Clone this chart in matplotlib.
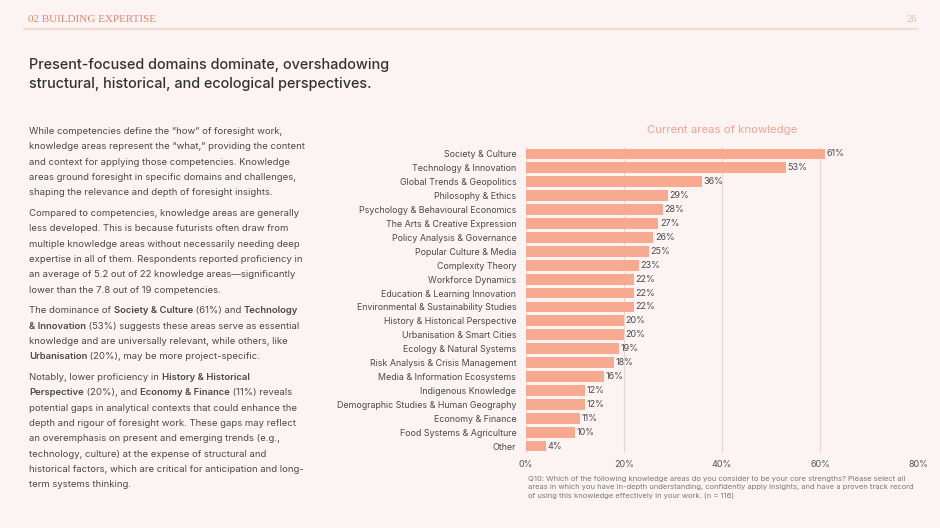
import matplotlib.pyplot as plt
import numpy as np

# knowledge areas and share of respondents (%)
areas = [
    "Society & Culture", "Technology & Innovation", "Global Trends & Geopolitics",
    "Philosophy & Ethics", "Psychology & Behavioural Economics",
    "The Arts & Creative Expression", "Policy Analysis & Governance",
    "Popular Culture & Media", "Complexity Theory", "Workforce Dynamics",
    "Education & Learning Innovation", "Environmental & Sustainability Studies",
    "History & Historical Perspective", "Urbanisation & Smart Cities",
    "Ecology & Natural Systems", "Risk Analysis & Crisis Management",
    "Media & Information Ecosystems", "Indigenous Knowledge",
    "Demographic Studies & Human Geography", "Economy & Finance",
    "Food Systems & Agriculture", "Other",
]
shares = [61, 53, 36, 29, 28, 27, 26, 25, 23, 22, 22, 22, 20, 20, 19, 18, 16, 12, 12, 11, 10, 4]
x_ticks = [0, 20, 40, 60, 80]

# body paragraphs: each line is a list of (text, bold)
paragraphs = [
    [[("While competencies define the \u201chow\u201d of foresight work,", False)],
     [("knowledge areas represent the \u201cwhat,\u201d providing the content", False)],
     [("and context for applying those competencies. Knowledge", False)],
     [("areas ground foresight in specific domains and challenges,", False)],
     [("shaping the relevance and depth of foresight insights.", False)]],
    [[("Compared to competencies, knowledge areas are generally", False)],
     [("less developed. This is because futurists often draw from", False)],
     [("multiple knowledge areas without necessarily needing deep", False)],
     [("expertise in all of them. Respondents reported proficiency in", False)],
     [("an average of 5.2 out of 22 knowledge areas\u2014significantly", False)],
     [("lower than the 7.8 out of 19 competencies.", False)]],
    [[("The dominance of ", False), ("Society & Culture", True), (" (61%) and ", False), ("Technology", True)],
     [("& Innovation", True), (" (53%) suggests these areas serve as essential", False)],
     [("knowledge and are universally relevant, while others, like", False)],
     [("Urbanisation", True), (" (20%), may be more project-specific.", False)]],
    [[("Notably, lower proficiency in ", False), ("History & Historical", True)],
     [("Perspective", True), (" (20%), and ", False), ("Economy & Finance", True), (" (11%) reveals", False)],
     [("potential gaps in analytical contexts that could enhance the", False)],
     [("depth and rigour of foresight work. These gaps may reflect", False)],
     [("an overemphasis on present and emerging trends (e.g.,", False)],
     [("technology, culture) at the expense of structural and", False)],
     [("historical factors, which are critical for anticipation and long-", False)],
     [("term systems thinking.", False)]],
]

W, H = 940, 528
bg = "#fcf4f2"
bar_color = "#f8aa90"
text_color = "#4a4a4a"
font = "Inter"

plt.rcParams['font.family'] = [font, 'DejaVu Sans']

fig = plt.figure(figsize=(W / 100, H / 100), dpi=100, facecolor=bg)


def fx(x):
    return x / W


def fy(y):
    return 1 - y / H


# header
fig.text(fx(28), fy(19), "02 BUILDING EXPERTISE", family="Liberation Serif",
         fontsize=8, color="#e3866c", va="center")
fig.text(fx(917), fy(19), "26", family="Liberation Serif", fontsize=7.5,
         color="#e8b7a8", va="center", ha="right")
fig.add_artist(plt.Line2D([fx(24), fx(917)], [fy(29), fy(29)], color="#f2dcd5", lw=1.5))

# title
fig.text(fx(29), fy(65), "Present-focused domains dominate, overshadowing",
         fontsize=10.4, color="#333333", weight="medium", va="center")
fig.text(fx(29), fy(84), "structural, historical, and ecological perspectives.",
         fontsize=10.4, color="#333333", weight="medium", va="center")

# body text with bold runs
renderer = fig.canvas.get_renderer()
y = 134
for para in paragraphs:
    for line in para:
        x = 29
        for seg, bold in line:
            t = fig.text(fx(x), fy(y), seg, fontsize=6.85, color=text_color,
                         weight="semibold" if bold else "normal", va="baseline")
            x += t.get_window_extent(renderer).width
        y += 15.3
    y += 5.5

# bar chart
ax = fig.add_axes([fx(526), fy(453), fx(918 - 526), (453 - 147) / H])
ax.set_facecolor(bg)
pos = np.arange(len(areas))
ax.barh(pos, shares, height=0.78, color=bar_color, zorder=2)
for p, v in zip(pos, shares):
    ax.text(v + 0.3, p, f"{v}%", va="center", ha="left", fontsize=6.5, color=text_color)
ax.set_yticks(pos)
ax.set_yticklabels(areas, fontsize=6.4, color=text_color)
ax.set_ylim(len(areas) - 0.5, -0.5)
ax.set_xlim(0, 80)
ax.set_xticks(x_ticks)
ax.set_xticklabels([f"{t}%" for t in x_ticks], fontsize=6.5, color="#555555")
ax.tick_params(length=0, pad=7)
ax.tick_params(axis="x", pad=5)
for s in ax.spines.values():
    s.set_visible(False)
ax.grid(axis="x", color="#e6d6d0", lw=0.8, zorder=0)

fig.text(fx(722), fy(130), "Current areas of knowledge", fontsize=8.2,
         color="#f0a68c", ha="center", va="center")

fig.text(fx(528), fy(476),
         "Q10: Which of the following knowledge areas do you consider to be your core strengths? Please select all\n"
         "areas in which you have in-depth understanding, confidently apply insights, and have a proven track record\n"
         "of using this knowledge effectively in your work. (n = 116)",
         fontsize=5.45, color="#777777", va="top", linespacing=1.45)

fig.savefig("out.png", dpi=100, facecolor=bg)
